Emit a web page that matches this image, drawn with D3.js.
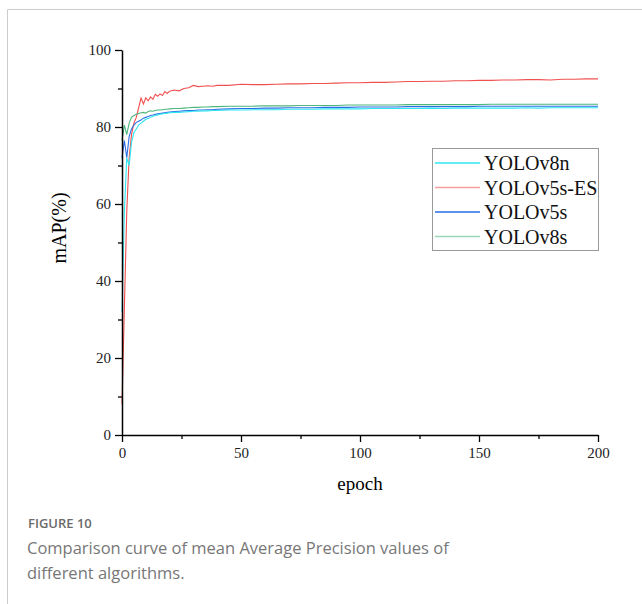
<!doctype html>
<html>
<head>
<meta charset="utf-8">
<script src="https://d3js.org/d3.v7.min.js"></script>
<style>
  body { margin: 0; background: #fff; }
</style>
</head>
<body>
<svg width="642" height="604"></svg>
<script>
// epochs (dense at the start, sparser later)
var epochs = [0,1,2,3,4,5,6,7,8,9,10,11,12,13,14,15,16,17,18,19,20,
  22,24,26,28,30,32,34,36,38,40,
  45,50,55,60,65,70,75,80,85,90,95,100,105,110,115,120,125,130,135,140,
  145,150,155,160,165,170,175,180,185,190,195,200];

var yolov8n = [32,58,72,70,76,78.5,79.5,80.5,81,81.5,82,82.2,82.5,82.8,83,83.1,83.3,83.4,83.5,83.6,83.7,
  83.8,83.8,83.9,84,84.1,84.1,84.2,84.2,84.3,84.3,
  84.4,84.4,84.5,84.5,84.5,84.6,84.6,84.6,84.7,84.7,84.7,84.7,84.8,84.8,84.8,84.8,84.8,84.9,84.8,84.9,
  84.9,84.9,84.9,84.9,84.9,85,84.9,85,85,85,85,85];

var yolov5sES = [8,33,58,72,78,81,82.5,85,87.5,86,87.6,86.8,87.8,87.2,88.5,88,88.6,88.2,89.2,88.7,89.3,
  89.6,89.4,90,90.2,90.8,90.5,90.6,90.7,90.6,90.8,
  90.8,91.1,91,91,91.1,91.2,91.2,91.3,91.3,91.4,91.5,91.5,91.6,91.6,91.7,91.8,91.8,91.9,91.9,92,
  92,92.1,92.1,92.2,92.2,92.3,92.3,92.2,92.4,92.4,92.5,92.5];

var yolov5s = [72,76.5,72,77.5,79.5,80.5,81.2,81.5,81.8,82.3,82.5,82.7,83,83.1,83.3,83.4,83.5,83.6,83.7,83.8,83.9,
  84,84.1,84.2,84.3,84.3,84.4,84.4,84.5,84.5,84.6,
  84.7,84.8,84.8,84.9,84.9,85,85,85,85.1,85.1,85.1,85.2,85.2,85.2,85.2,85.3,85.3,85.3,85.3,85.3,
  85.3,85.4,85.4,85.4,85.4,85.4,85.4,85.4,85.4,85.4,85.4,85.4];

var yolov8s = [76.5,80.5,78,81,82.5,83,83.3,83.5,83.7,83.8,83.6,84,84.2,84.1,84.3,84.4,84.4,84.5,84.6,84.6,84.7,
  84.8,84.8,84.9,85,85.1,85.1,85.2,85.2,85.3,85.3,
  85.4,85.4,85.4,85.5,85.5,85.5,85.6,85.6,85.6,85.6,85.7,85.7,85.7,85.7,85.7,85.8,85.8,85.8,85.8,85.8,
  85.8,85.8,85.9,85.9,85.9,85.9,85.9,85.9,85.9,85.9,85.9,85.9];

var seriesNames = ["YOLOv8n", "YOLOv5s-ES", "YOLOv5s", "YOLOv8s"];
var seriesColors = ["#2ee6f0", "#f0504f", "#2a6ee6", "#4cb67c"];
var seriesValues = [yolov8n, yolov5sES, yolov5s, yolov8s];
var xTicks = [0, 50, 100, 150, 200];
var yTicks = [0, 20, 40, 60, 80, 100];

var svg = d3.select("svg");

// card border
svg.append("path")
  .attr("d", "M7.5,604 V9.5 H642")
  .attr("fill", "none")
  .attr("stroke", "#cccccc")
  .attr("stroke-width", 1);

var plotLeft = 122, plotRight = 598, plotTop = 50, plotBottom = 435;

var xScale = d3.scaleLinear().domain([0, 200]).range([plotLeft, plotRight]);
var yScale = d3.scaleLinear().domain([0, 100]).range([plotBottom, plotTop]);

// lines (drawn under the axes)
var line = d3.line()
  .x(function(d, i) { return xScale(epochs[i]); })
  .y(function(d) { return yScale(d); });

[1, 2, 0, 3].forEach(function(k) {
  svg.append("path")
    .datum(seriesValues[k])
    .attr("d", line)
    .attr("fill", "none")
    .attr("stroke", seriesColors[k])
    .attr("stroke-width", 1.1);
});

// minor ticks
var minorX = svg.append("g")
  .attr("transform", "translate(0," + plotBottom + ")")
  .call(d3.axisBottom(xScale).tickValues([25, 75, 125, 175]).tickSize(4).tickFormat(""));
var minorY = svg.append("g")
  .attr("transform", "translate(" + plotLeft + ",0)")
  .call(d3.axisLeft(yScale).tickValues([10, 30, 50, 70, 90]).tickSize(4).tickFormat(""));
minorX.select(".domain").remove();
minorY.select(".domain").remove();

// major axes
var xAxis = svg.append("g")
  .attr("transform", "translate(0," + plotBottom + ")")
  .call(d3.axisBottom(xScale).tickValues(xTicks).tickSize(7).tickSizeOuter(0).tickPadding(5));
var yAxis = svg.append("g")
  .attr("transform", "translate(" + plotLeft + ",0)")
  .call(d3.axisLeft(yScale).tickValues(yTicks).tickSize(7).tickSizeOuter(0).tickPadding(4));

svg.selectAll(".tick line").attr("stroke", "#000").attr("stroke-width", 1.3);
svg.selectAll(".domain").attr("stroke", "#000").attr("stroke-width", 1.5);
svg.selectAll(".tick text")
  .style("font-family", "'Liberation Serif', 'Times New Roman', serif")
  .style("font-size", "15px")
  .attr("fill", "#222");

// axis labels
svg.append("text")
  .attr("x", 360)
  .attr("y", 490)
  .attr("text-anchor", "middle")
  .style("font-family", "'Liberation Serif', serif")
  .style("font-size", "19px")
  .text("epoch");

svg.append("text")
  .attr("transform", "translate(66,228)rotate(-90)")
  .attr("text-anchor", "middle")
  .style("font-family", "'Liberation Serif', serif")
  .style("font-size", "20px")
  .text("mAP(%)");

// legend
var legend = svg.append("g").attr("transform", "translate(432,148)");
legend.append("rect")
  .attr("x", 0.5).attr("y", 0.5)
  .attr("width", 166).attr("height", 102)
  .attr("fill", "#fff")
  .attr("stroke", "#999")
  .attr("stroke-width", 1);

seriesNames.forEach(function(name, i) {
  var yy = 15 + i * 24.5;
  legend.append("line")
    .attr("x1", 3).attr("x2", 48)
    .attr("y1", yy).attr("y2", yy)
    .attr("stroke", seriesColors[i])
    .attr("stroke-opacity", i === 1 || i === 3 ? 0.55 : 1)
    .attr("stroke-width", 1.3);
  legend.append("text")
    .attr("x", 52)
    .attr("y", yy + 7)
    .style("font-family", "'Liberation Serif', serif")
    .style("font-size", "20px")
    .attr("fill", "#111")
    .text(name);
});

// caption
svg.append("text")
  .attr("x", 28).attr("y", 528)
  .style("font-family", "'Open Sans', sans-serif")
  .style("font-size", "13px")
  .style("font-weight", 600)
  .attr("fill", "#6a6a6a")
  .text("FIGURE 10");

svg.append("text")
  .attr("x", 27).attr("y", 554)
  .style("font-family", "'Open Sans', sans-serif")
  .style("font-size", "16.5px")
  .attr("fill", "#777")
  .text("Comparison curve of mean Average Precision values of");

svg.append("text")
  .attr("x", 27).attr("y", 579)
  .style("font-family", "'Open Sans', sans-serif")
  .style("font-size", "16.5px")
  .attr("fill", "#777")
  .text("different algorithms.");
</script>
</body>
</html>
